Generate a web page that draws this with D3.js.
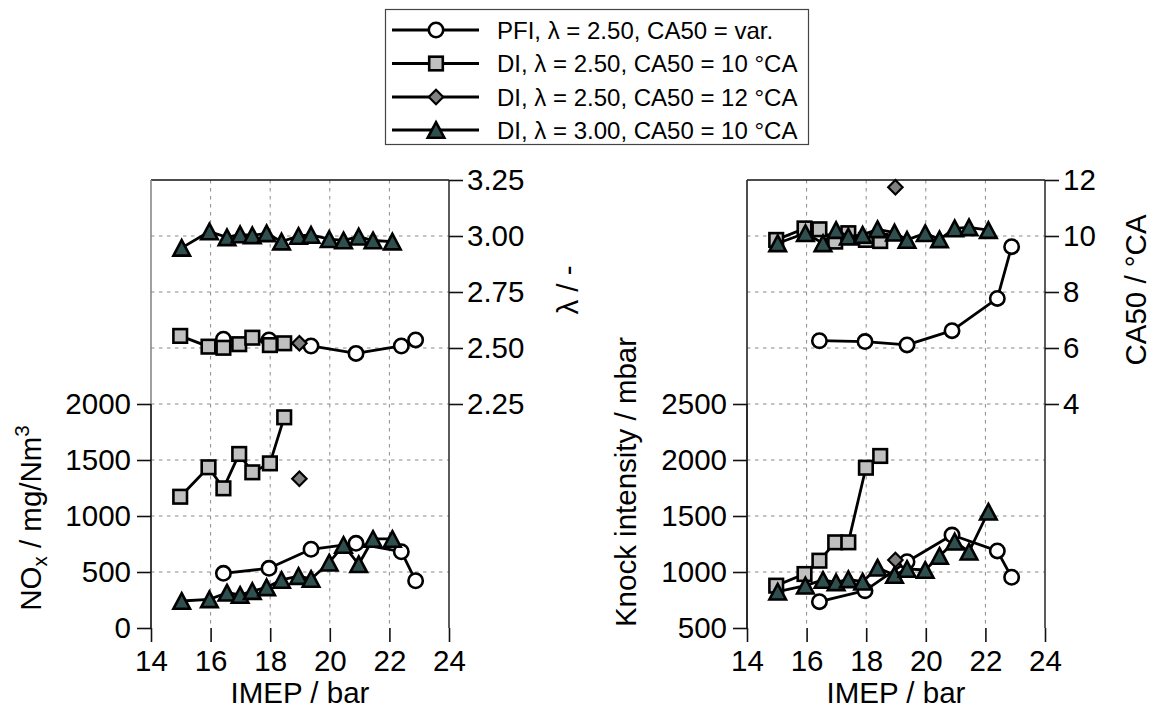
<!DOCTYPE html>
<html>
<head>
<meta charset="utf-8">
<script src="https://cdn.jsdelivr.net/npm/d3@7"></script>
<style>
  html, body { margin: 0; padding: 0; background: #fff; }
  svg { display: block; font-family: "Liberation Sans", Arial, Helvetica, sans-serif; }
</style>
</head>
<body>
<svg id="chart" width="1152" height="719"></svg>
<script>
// ---------------- data ----------------
const seriesNames = ["PFI, \u03bb = 2.50, CA50 = var.", "DI, \u03bb = 2.50, CA50 = 10 \u00b0CA", "DI, \u03bb = 2.50, CA50 = 12 \u00b0CA", "DI, \u03bb = 3.00, CA50 = 10 \u00b0CA"];

const imepPFI   = [16.43, 17.96, 19.37, 20.88, 22.40, 22.88];
const lambdaPFI = [2.539, 2.536, 2.509, 2.476, 2.509, 2.536];
const noxPFI    = [488, 533, 703, 756, 681, 422];
const knockPFI  = [735, 833, 1092, 1330, 1188, 953];
const ca50PFI   = [6.26, 6.23, 6.11, 6.62, 7.77, 9.62];

const imepDI25   = [14.98, 15.93, 16.43, 16.96, 17.40, 17.99, 18.47];
const lambdaDI25 = [2.554, 2.506, 2.501, 2.517, 2.546, 2.513, 2.521];
const noxDI25    = [1172, 1435, 1247, 1554, 1390, 1470, 1881];
const knockDI25  = [878, 982, 1101, 1265, 1265, 1931, 2036];
const ca50DI25   = [9.86, 10.27, 10.24, 9.80, 10.10, 9.86, 9.82];

const imepDI25b   = [18.98];
const lambdaDI25b = [2.521];
const noxDI25b    = [1333];
const knockDI25b  = [1107];
const ca50DI25b   = [11.74];

const imepDI30   = [15.03, 15.96, 16.55, 16.99, 17.40, 17.88, 18.38, 18.95, 19.37, 19.98, 20.46, 20.97, 21.45, 22.10];
const lambdaDI30 = [2.947, 3.020, 2.994, 3.007, 3.003, 3.012, 2.975, 3.000, 3.005, 2.986, 2.980, 2.997, 2.980, 2.975];
const noxDI30    = [241, 256, 315, 295, 330, 363, 429, 464, 438, 583, 741, 569, 795, 795];
const knockDI30  = [824, 878, 929, 908, 935, 913, 1038, 973, 1027, 1018, 1143, 1271, 1181, 1538];
const ca50DI30   = [9.74, 10.10, 9.74, 10.21, 9.98, 10.04, 10.24, 10.12, 9.86, 10.10, 9.88, 10.27, 10.31, 10.21];

const xTicks = [14, 16, 18, 20, 22, 24];
const noxTicks = [0, 500, 1000, 1500, 2000];
const lambdaTicks = [2.25, 2.50, 2.75, 3.00, 3.25];
const knockTicks = [500, 1000, 1500, 2000, 2500];
const ca50Ticks = [4, 6, 8, 10, 12];

// ---------------- styles ----------------
const markerStyles = [
  { shape: "circle",   fill: "#ffffff" },
  { shape: "square",   fill: "#c0c0c0" },
  { shape: "diamond",  fill: "#808080" },
  { shape: "triangle", fill: "#2f4f4f" }
];
const FS = 29.5;

const svg = d3.select("#chart");

function markerPath(shape) {
  switch (shape) {
    case "circle": return d3.path().toString();
    default: return "";
  }
}
function drawMarker(g, shape, fill, x, y) {
  const sw = 2.6;
  if (shape === "circle") {
    g.append("circle").attr("cx", x).attr("cy", y).attr("r", 7.2)
      .attr("fill", fill).attr("stroke", "#000").attr("stroke-width", sw);
  } else if (shape === "square") {
    const s = 6.8;
    g.append("rect").attr("x", x - s).attr("y", y - s).attr("width", 2 * s).attr("height", 2 * s)
      .attr("fill", fill).attr("stroke", "#000").attr("stroke-width", sw);
  } else if (shape === "diamond") {
    const s = 7.2;
    g.append("path").attr("d", `M${x},${y - s}L${x + s},${y}L${x},${y + s}L${x - s},${y}Z`)
      .attr("fill", fill).attr("stroke", "#000").attr("stroke-width", sw - 0.4);
  } else {
    const w = 8.3, h = 7.8;
    g.append("path").attr("d", `M${x},${y - h}L${x + w},${y + h}L${x - w},${y + h}Z`)
      .attr("fill", fill).attr("stroke", "#000").attr("stroke-width", sw).attr("stroke-linejoin", "miter");
  }
}

function drawSeries(g, xs, ys, xScale, yScale, style) {
  const pts = xs.map((v, i) => [xScale(v), yScale(ys[i])]);
  if (pts.length > 1) {
    g.append("path").attr("d", d3.line()(pts)).attr("fill", "none")
      .attr("stroke", "#000").attr("stroke-width", 2.8).attr("stroke-linejoin", "round");
  }
  pts.forEach(p => drawMarker(g, style.shape, style.fill, p[0], p[1]));
}

function panel(cfg) {
  const { x0, x1, top, bottom } = cfg;
  const x = d3.scaleLinear().domain([14, 24]).range([x0, x1]);
  const yL = d3.scaleLinear().domain(cfg.leftDomain).range([bottom, top]);
  const yR = d3.scaleLinear().domain(cfg.rightDomain).range([bottom, top]);
  const g = svg.append("g");

  // grid
  const grid = g.append("g").attr("stroke", "#8a8a8a").attr("stroke-width", 1).attr("stroke-dasharray", "3.5,4.5");
  [16, 18, 20, 22].forEach(v => grid.append("line").attr("x1", x(v)).attr("x2", x(v)).attr("y1", top).attr("y2", bottom));
  d3.range(cfg.leftDomain[0] + 500, cfg.leftDomain[1], 500).forEach(v =>
    grid.append("line").attr("x1", x0).attr("x2", x1).attr("y1", yL(v)).attr("y2", yL(v)));

  // frame
  g.append("line").attr("x1", x0).attr("x2", x1).attr("y1", top).attr("y2", top).attr("stroke", "#111").attr("stroke-width", 1.6);
  g.append("line").attr("x1", x1).attr("x2", x1).attr("y1", top).attr("y2", bottom).attr("stroke", "#333").attr("stroke-width", 1.6);
  g.append("line").attr("x1", x0).attr("x2", x0).attr("y1", top).attr("y2", bottom).attr("stroke", cfg.leftUpperColor).attr("stroke-width", 1.6);
  g.append("line").attr("x1", x0).attr("x2", x0).attr("y1", yL(cfg.leftTicks[cfg.leftTicks.length - 1])).attr("y2", bottom).attr("stroke", "#222").attr("stroke-width", 1.6);

  // axes
  const ax = g.append("g").attr("transform", `translate(0,${bottom})`)
    .call(d3.axisBottom(x).tickValues(xTicks).tickSize(14).tickPadding(8).tickFormat(d3.format("d")));
  const ayl = g.append("g").attr("transform", `translate(${x0},0)`)
    .call(d3.axisLeft(yL).tickValues(cfg.leftTicks).tickSize(14).tickPadding(6).tickFormat(d3.format("d")));
  const ayr = g.append("g").attr("transform", `translate(${x1},0)`)
    .call(d3.axisRight(yR).tickValues(cfg.rightTicks).tickSize(14).tickPadding(4).tickFormat(cfg.rightFormat));
  [ax, ayl, ayr].forEach(a => {
    a.select(".domain").remove();
    a.selectAll(".tick line").attr("stroke", "#111").attr("stroke-width", 1.6);
    a.selectAll(".tick text").attr("font-size", FS).attr("fill", "#000")
      .attr("font-family", "'Liberation Sans', Arial, sans-serif");
  });

  // data
  const d = g.append("g");
  cfg.series.forEach((s, i) => drawSeries(d, s.x, s.y, x, s.axis === "L" ? yL : yR, markerStyles[i]));

  // x label
  g.append("text").attr("x", (x0 + x1) / 2).attr("y", 703).attr("text-anchor", "middle")
    .attr("font-size", FS).text("IMEP / bar");
  return { g, x, yL, yR };
}

// left panel: NOx (left) + lambda (right)
const pL = panel({
  x0: 151, x1: 449, top: 180, bottom: 628,
  leftDomain: [0, 4000], rightDomain: [1.25, 3.25],
  leftTicks: noxTicks, rightTicks: lambdaTicks, rightFormat: d3.format(".2f"),
  leftUpperColor: "#888",
  series: [
    { x: imepPFI, y: noxPFI, axis: "L" }, { x: imepDI25, y: noxDI25, axis: "L" },
    { x: imepDI25b, y: noxDI25b, axis: "L" }, { x: imepDI30, y: noxDI30, axis: "L" }
  ]
});
// lambda series drawn on twin axis
const dl = pL.g.append("g");
[[imepPFI, lambdaPFI], [imepDI25, lambdaDI25], [imepDI25b, lambdaDI25b], [imepDI30, lambdaDI30]]
  .forEach((s, i) => drawSeries(dl, s[0], s[1], pL.x, pL.yR, markerStyles[i]));

// right panel: knock (left) + CA50 (right)
const pR = panel({
  x0: 747, x1: 1045, top: 180, bottom: 628,
  leftDomain: [500, 4500], rightDomain: [-4, 12],
  leftTicks: knockTicks, rightTicks: ca50Ticks, rightFormat: d3.format("d"),
  leftUpperColor: "#222",
  series: [
    { x: imepPFI, y: knockPFI, axis: "L" }, { x: imepDI25, y: knockDI25, axis: "L" },
    { x: imepDI25b, y: knockDI25b, axis: "L" }, { x: imepDI30, y: knockDI30, axis: "L" }
  ]
});
const dr = pR.g.append("g");
[[imepPFI, ca50PFI], [imepDI25, ca50DI25], [imepDI25b, ca50DI25b], [imepDI30, ca50DI30]]
  .forEach((s, i) => drawSeries(dr, s[0], s[1], pR.x, pR.yR, markerStyles[i]));

// axis titles
const t1 = svg.append("text").attr("transform", "translate(41,518) rotate(-90)")
  .attr("text-anchor", "middle").attr("font-size", FS);
t1.append("tspan").text("NO");
t1.append("tspan").attr("font-size", FS * 0.7).attr("dy", 6).text("x");
t1.append("tspan").attr("dy", -6).text(" / mg/Nm");
t1.append("tspan").attr("font-size", FS * 0.7).attr("dy", -12).text("3");

svg.append("text").attr("transform", "translate(578,290) rotate(-90)")
  .attr("text-anchor", "middle").attr("font-size", FS).text("\u03bb / -");
svg.append("text").attr("transform", "translate(636,482) rotate(-90)")
  .attr("text-anchor", "middle").attr("font-size", FS).text("Knock intensity / mbar");
svg.append("text").attr("transform", "translate(1146,290) rotate(-90)")
  .attr("text-anchor", "middle").attr("font-size", FS).text("CA50 / \u00b0CA");

// legend
const lg = svg.append("g");
lg.append("rect").attr("x", 385.5).attr("y", 9.5).attr("width", 423).attr("height", 135)
  .attr("fill", "#fff").attr("stroke", "#444").attr("stroke-width", 1.2);
const rowY = [30, 63.5, 97, 130];
seriesNames.forEach((name, i) => {
  const y = rowY[i];
  lg.append("line").attr("x1", 392).attr("x2", 479).attr("y1", y).attr("y2", y)
    .attr("stroke", "#000").attr("stroke-width", 2.8);
  drawMarker(lg, markerStyles[i].shape, markerStyles[i].fill, 436, y);
  lg.append("text").attr("x", 497).attr("y", y).attr("dy", "0.36em")
    .attr("font-size", 24).text(name);
});
</script>
</body>
</html>
